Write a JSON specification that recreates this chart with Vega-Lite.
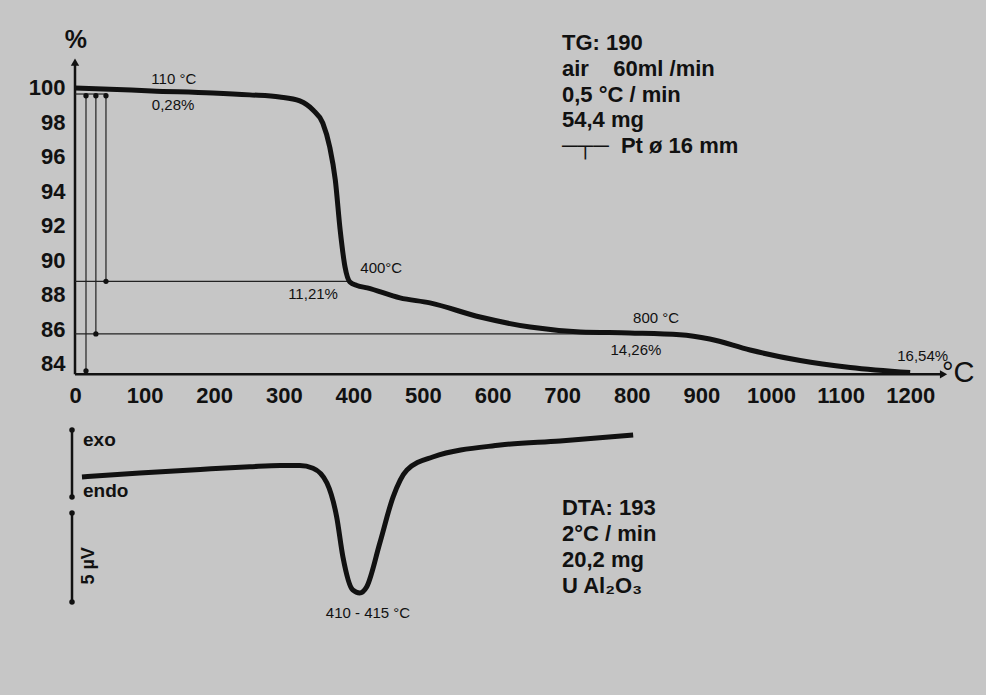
{
  "$schema": "https://vega.github.io/schema/vega-lite/v6.json",
  "width": 911,
  "height": 695,
  "autosize": {"type": "none"},
  "padding": {"left": 75, "top": 0, "right": 0, "bottom": 0},
  "background": "#c6c6c6",
  "config": {
    "view": {"stroke": null},
    "text": {"font": "Liberation Sans", "color": "#111"}
  },
  "datasets": {
    "tg": [
      {"T": 0, "p": 100.0}, {"T": 50, "p": 99.93}, {"T": 110, "p": 99.83}, {"T": 198, "p": 99.71},
      {"T": 251, "p": 99.6}, {"T": 294, "p": 99.48}, {"T": 323, "p": 99.25}, {"T": 342, "p": 98.72},
      {"T": 356, "p": 97.97}, {"T": 366, "p": 96.58}, {"T": 374, "p": 94.67}, {"T": 381, "p": 91.77},
      {"T": 388, "p": 89.62}, {"T": 395, "p": 88.75}, {"T": 405, "p": 88.55}, {"T": 420, "p": 88.41},
      {"T": 467, "p": 87.83}, {"T": 510, "p": 87.54}, {"T": 582, "p": 86.72}, {"T": 654, "p": 86.14},
      {"T": 726, "p": 85.86}, {"T": 797, "p": 85.8}, {"T": 869, "p": 85.7}, {"T": 912, "p": 85.45},
      {"T": 970, "p": 84.81}, {"T": 1042, "p": 84.2}, {"T": 1114, "p": 83.8}, {"T": 1200, "p": 83.5}
    ],
    "dta": [
      {"T": 10, "v": -0.67}, {"T": 93, "v": -0.45}, {"T": 180, "v": -0.25}, {"T": 251, "v": -0.1},
      {"T": 295, "v": -0.03}, {"T": 323, "v": -0.03}, {"T": 342, "v": -0.18}, {"T": 362, "v": -1.01},
      {"T": 376, "v": -2.92}, {"T": 385, "v": -5.17}, {"T": 399, "v": -7.02}, {"T": 409, "v": -7.19},
      {"T": 419, "v": -6.85}, {"T": 438, "v": -4.38}, {"T": 457, "v": -1.8}, {"T": 477, "v": -0.28},
      {"T": 514, "v": 0.45}, {"T": 611, "v": 1.12}, {"T": 697, "v": 1.35}, {"T": 802, "v": 1.69}
    ],
    "tgAxes": [
      {"T": 0, "T2": 0, "p": 83.4, "p2": 101.5},
      {"T": 0, "T2": 1248, "p": 83.4, "p2": 83.4}
    ],
    "tgMeasure": [
      {"T": 15.8, "T2": 15.8, "p": 99.55, "p2": 83.5},
      {"T": 30, "T2": 30, "p": 99.55, "p2": 85.74},
      {"T": 44.5, "T2": 44.5, "p": 99.55, "p2": 88.79},
      {"T": 0, "T2": 395, "p": 88.79, "p2": 88.79},
      {"T": 0, "T2": 800, "p": 85.74, "p2": 85.74},
      {"T": 0, "T2": 45, "p": 99.65, "p2": 99.65}
    ],
    "tgDots": [
      {"T": 15.8, "p": 99.55}, {"T": 30, "p": 99.55}, {"T": 44.5, "p": 99.55},
      {"T": 30, "p": 85.74}, {"T": 44.5, "p": 88.79}, {"T": 15.8, "p": 83.6}
    ],
    "arrowUp": [{"T": 0, "p": 101.5}],
    "arrowRight": [{"T": 1248, "p": 83.4}],
    "tgNotes": [
      {"T": 142, "p": 100.52, "text": "110 °C"},
      {"T": 141, "p": 99.01, "text": "0,28%"},
      {"T": 440, "p": 89.57, "text": "400°C"},
      {"T": 342, "p": 88.06, "text": "11,21%"},
      {"T": 835, "p": 86.67, "text": "800 °C"},
      {"T": 806, "p": 84.81, "text": "14,26%"},
      {"T": 1218, "p": 84.46, "text": "16,54%"}
    ],
    "unitC": [{"T": 1269, "p": 83.48, "text": "°C"}],
    "unitP": [{"T": 1.4, "p": 102.78, "text": "%"}],
    "tgInfo": [
      {"T": 699.7, "p": 102.2, "text": "TG: 190"},
      {"T": 699.7, "p": 100.7, "text": "air\u00a0\u00a0\u00a0\u00a060ml /min"},
      {"T": 699.7, "p": 99.19, "text": "0,5 °C / min"},
      {"T": 699.7, "p": 97.74, "text": "54,4 mg"},
      {"T": 699.7, "p": 96.23, "text": "─┬─\u00a0\u00a0Pt ø 16 mm"}
    ],
    "dtaBars": [
      {"T": -4.3, "T2": -4.3, "v": 1.97, "v2": -1.8},
      {"T": -4.3, "T2": -4.3, "v": -2.7, "v2": -7.7}
    ],
    "dtaBarEnds": [
      {"T": -4.3, "v": 1.97}, {"T": -4.3, "v": -1.8}, {"T": -4.3, "v": -2.7}, {"T": -4.3, "v": -7.7}
    ],
    "exoEndo": [
      {"T": 11.5, "v": 1.4, "text": "exo"},
      {"T": 11.5, "v": -1.46, "text": "endo"}
    ],
    "scaleLabel": [{"T": 20.1, "v": -5.67, "text": "5 µV"}],
    "peakNote": [{"T": 421, "v": -8.31, "text": "410 - 415 °C"}],
    "dtaInfo": [
      {"T": 699.7, "v": -2.81, "text": "DTA: 193"},
      {"T": 699.7, "v": -4.27, "text": "2°C / min"},
      {"T": 699.7, "v": -5.73, "text": "20,2 mg"},
      {"T": 699.7, "v": -7.19, "text": "U Al₂O₃"}
    ]
  },
  "encoding": {
    "x": {
      "field": "T",
      "type": "quantitative",
      "scale": {"domain": [0, 1309], "nice": false, "zero": false},
      "axis": {
        "values": [0, 100, 200, 300, 400, 500, 600, 700, 800, 900, 1000, 1100, 1200],
        "format": "d",
        "domain": false, "ticks": false, "grid": false, "title": null,
        "labelPadding": 11, "offset": -321,
        "labelFont": "Liberation Sans", "labelFontSize": 22, "labelFontWeight": "bold",
        "labelColor": "#111", "labelFlush": false, "labelOverlap": false
      }
    }
  },
  "layer": [
    {
      "encoding": {
        "y": {
          "field": "p",
          "type": "quantitative",
          "scale": {"domain": [64.81, 105.1], "nice": false, "zero": false},
          "axis": {
            "values": [84, 86, 88, 90, 92, 94, 96, 98, 100],
            "domain": false, "ticks": false, "grid": false, "title": null,
            "labelPadding": 10,
            "labelFont": "Liberation Sans", "labelFontSize": 22, "labelFontWeight": "bold",
            "labelColor": "#111"
          }
        }
      },
      "layer": [
        {
          "data": {"name": "tgAxes"},
          "mark": {"type": "rule", "strokeWidth": 2.5, "color": "#111"},
          "encoding": {"x2": {"field": "T2"}, "y2": {"field": "p2"}}
        },
        {
          "data": {"name": "tgMeasure"},
          "mark": {"type": "rule", "strokeWidth": 1.2, "color": "#222"},
          "encoding": {"x2": {"field": "T2"}, "y2": {"field": "p2"}}
        },
        {
          "data": {"name": "tgDots"},
          "mark": {"type": "point", "filled": true, "size": 28, "color": "#111", "opacity": 1}
        },
        {
          "data": {"name": "arrowUp"},
          "mark": {"type": "point", "shape": "triangle-up", "filled": true, "size": 70, "color": "#111", "opacity": 1}
        },
        {
          "data": {"name": "arrowRight"},
          "mark": {"type": "point", "shape": "triangle-right", "filled": true, "size": 70, "color": "#111", "opacity": 1}
        },
        {
          "data": {"name": "tg"},
          "mark": {"type": "line", "interpolate": "monotone", "strokeWidth": 5, "color": "#111"}
        },
        {
          "data": {"name": "tgNotes"},
          "mark": {"type": "text", "fontSize": 15, "align": "center", "baseline": "middle"},
          "encoding": {"text": {"field": "text", "type": "nominal"}}
        },
        {
          "data": {"name": "unitC"},
          "mark": {"type": "text", "fontSize": 29, "align": "center", "baseline": "middle"},
          "encoding": {"text": {"field": "text", "type": "nominal"}}
        },
        {
          "data": {"name": "unitP"},
          "mark": {"type": "text", "fontSize": 25, "fontWeight": "bold", "align": "center", "baseline": "middle"},
          "encoding": {"text": {"field": "text", "type": "nominal"}}
        },
        {
          "data": {"name": "tgInfo"},
          "mark": {"type": "text", "fontSize": 22, "fontWeight": "bold", "align": "left", "baseline": "alphabetic"},
          "encoding": {"text": {"field": "text", "type": "nominal"}}
        }
      ]
    },
    {
      "encoding": {
        "y": {
          "field": "v",
          "type": "quantitative",
          "scale": {"domain": [-12.92, 26.12], "nice": false, "zero": false},
          "axis": null
        }
      },
      "layer": [
        {
          "data": {"name": "dtaBars"},
          "mark": {"type": "rule", "strokeWidth": 2.5, "color": "#111"},
          "encoding": {"x2": {"field": "T2"}, "y2": {"field": "v2"}}
        },
        {
          "data": {"name": "dtaBarEnds"},
          "mark": {"type": "point", "filled": true, "size": 30, "color": "#111", "opacity": 1}
        },
        {
          "data": {"name": "dta"},
          "mark": {"type": "line", "interpolate": "monotone", "strokeWidth": 5, "color": "#111"}
        },
        {
          "data": {"name": "exoEndo"},
          "mark": {"type": "text", "fontSize": 19, "fontWeight": "bold", "align": "left", "baseline": "middle"},
          "encoding": {"text": {"field": "text", "type": "nominal"}}
        },
        {
          "data": {"name": "scaleLabel"},
          "mark": {"type": "text", "fontSize": 18, "fontWeight": "bold", "align": "center", "baseline": "middle", "angle": 270},
          "encoding": {"text": {"field": "text", "type": "nominal"}}
        },
        {
          "data": {"name": "peakNote"},
          "mark": {"type": "text", "fontSize": 15, "align": "center", "baseline": "middle"},
          "encoding": {"text": {"field": "text", "type": "nominal"}}
        },
        {
          "data": {"name": "dtaInfo"},
          "mark": {"type": "text", "fontSize": 22, "fontWeight": "bold", "align": "left", "baseline": "alphabetic"},
          "encoding": {"text": {"field": "text", "type": "nominal"}}
        }
      ]
    }
  ],
  "resolve": {"scale": {"y": "independent"}}
}
